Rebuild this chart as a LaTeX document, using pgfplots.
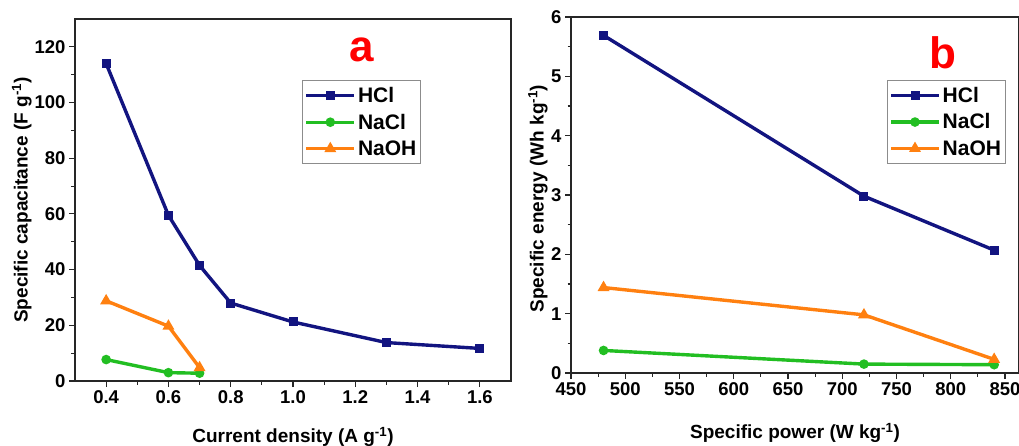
\documentclass[border=0pt]{standalone}
\usepackage{fontspec}
\setmainfont{Liberation Sans}
\usepackage{pgfplots}
\pgfplotsset{compat=1.18}
\definecolor{hcl}{RGB}{18,20,128}
\definecolor{nacl}{RGB}{34,190,34}
\definecolor{naoh}{RGB}{255,128,16}
\pgfplotsset{
  myax/.style={
    scale only axis,
    axis line style={black!85,line width=1.3pt},
    tick style={black!85,line width=1.1pt},
    tick align=outside,
    xtick pos=bottom, ytick pos=left,
    major tick length=6pt, minor tick length=3.5pt,
    minor tick num=1,
    /pgf/number format/assume math mode=true,
    ticklabel style={font=\bfseries\fontsize{18.5}{20}\selectfont},
    label style={font=\bfseries\fontsize{19}{22}\selectfont},
    legend style={draw=black!45,line width=0.9pt,font=\bfseries\fontsize{21}{23}\selectfont,
      inner xsep=2pt,inner ysep=4.5pt,row sep=6pt,cells={anchor=west}},
    legend cell align=left,
    legend image code/.code={\draw[mark repeat=2,mark phase=2,##1] plot coordinates {(0pt,0pt) (24pt,0pt) (48pt,0pt)};},
    every axis plot/.append style={line width=3.4pt},
  },
}
\begin{document}
\begin{tikzpicture}
\path[use as bounding box] (0,0) rectangle (1019pt,445pt);
\begin{axis}[myax,
  at={(75pt,64pt)}, anchor=south west,
  width=436pt, height=362pt,
  xmin=0.3, xmax=1.7, ymin=0, ymax=130,
  xtick={0.4,0.6,...,1.6}, ytick={0,20,...,120},
  xticklabel style={/pgf/number format/.cd,fixed,fixed zerofill,precision=1},
  xlabel={Current density (A g\textsuperscript{-1})},
  ylabel={Specific capacitance (F g\textsuperscript{-1})},
  xlabel style={at={(axis description cs:0.5,-0.155)},anchor=center},
  ylabel style={at={(axis description cs:-0.122,0.5)},anchor=center},
  legend style={at={(0.521,0.831)},anchor=north west},
]
\addplot[hcl,mark=square*,mark size=2.8pt] coordinates {(0.4,114) (0.6,59.5) (0.7,41.5) (0.8,28) (1.0,21.2) (1.3,13.8) (1.6,11.7)};
\addlegendentry{HCl}
\addplot[nacl,mark=*,mark size=3pt] coordinates {(0.4,7.7) (0.6,3.0) (0.7,2.8)};
\addlegendentry{NaCl}
\addplot[naoh,mark=triangle*,mark size=3.5pt] coordinates {(0.4,28.8) (0.6,19.7) (0.7,4.8)};
\addlegendentry{NaOH}
\node[text=red,font=\bfseries\fontsize{44}{44}\selectfont] at (axis description cs:0.658,0.915) {a};
\end{axis}
\begin{axis}[myax,
  at={(571pt,72pt)}, anchor=south west,
  width=448pt, height=356pt,
  xmin=450, xmax=862.9, ymin=0, ymax=6,
  xtick={450,500,...,850}, ytick={0,1,...,6},
  xlabel={Specific power (W kg\textsuperscript{-1})},
  ylabel={Specific energy (Wh kg\textsuperscript{-1})},
  xlabel style={at={(axis description cs:0.5,-0.169)},anchor=center},
  ylabel style={at={(axis description cs:-0.074,0.49)},anchor=center},
  legend style={at={(0.705,0.823)},anchor=north west},
]
\addplot[hcl,mark=square*,mark size=2.8pt] coordinates {(480,5.69) (720,2.98) (840,2.07)};
\addlegendentry{HCl}
\addplot[nacl,mark=*,mark size=3pt] coordinates {(480,0.38) (720,0.15) (840,0.14)};
\addlegendentry{NaCl}
\addplot[naoh,mark=triangle*,mark size=3.5pt] coordinates {(480,1.44) (720,0.98) (840,0.23)};
\addlegendentry{NaOH}
\node[text=red,font=\bfseries\fontsize{44}{44}\selectfont] at (axis description cs:0.83,0.9) {b};
\end{axis}
\end{tikzpicture}
\end{document}
